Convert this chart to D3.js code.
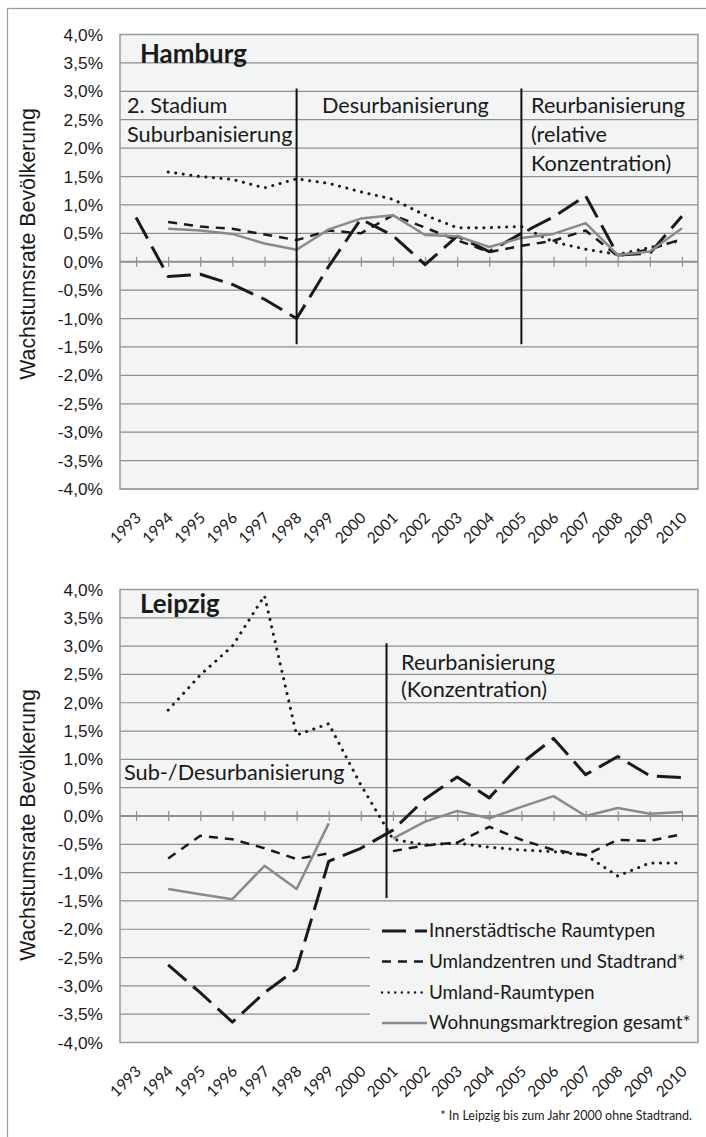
<!DOCTYPE html>
<html><head><meta charset="utf-8">
<script src="https://cdn.jsdelivr.net/npm/d3@7/dist/d3.min.js"></script>
<style>body{margin:0;background:#fff;} svg{display:block;}</style>
</head><body>
<svg id="c" width="706" height="1137"></svg>
<script>
// ---------- data ----------
const years = ["1993","1994","1995","1996","1997","1998","1999","2000","2001","2002","2003","2004","2005","2006","2007","2008","2009","2010"];
const yTicks = [-4,-3.5,-3,-2.5,-2,-1.5,-1,-0.5,0,0.5,1,1.5,2,2.5,3,3.5,4];
const seriesNames = ["Innerstädtische Raumtypen","Umlandzentren und Stadtrand*","Umland-Raumtypen","Wohnungsmarktregion gesamt*"];

// Hamburg (growth rate in %)
const hhInner  = [0.78,-0.26,-0.22,-0.40,-0.66,-1.00,-0.08,0.75,0.46,-0.05,0.45,0.18,0.50,0.79,1.16,0.12,0.15,0.80];
const hhUmz    = [null,0.70,0.62,0.58,0.48,0.38,0.55,0.50,0.82,0.60,0.38,0.17,0.28,0.37,0.55,0.10,0.22,0.40];
const hhUmland = [null,1.58,1.50,1.45,1.30,1.46,1.38,1.23,1.10,0.82,0.60,0.60,0.62,0.35,0.22,0.13,0.25,0.38];
const hhTotal  = [null,0.58,0.55,0.49,0.32,0.21,0.57,0.76,0.82,0.47,0.45,0.26,0.42,0.49,0.68,0.12,0.18,0.59];

// Leipzig (growth rate in %)
const leInner  = [null,-2.63,-3.12,-3.64,-3.12,-2.70,-0.80,-0.57,-0.25,0.30,0.69,0.32,0.93,1.37,0.73,1.05,0.71,0.68];
const leUmz    = [null,-0.75,-0.35,-0.41,-0.57,-0.76,-0.66,null,-0.62,-0.52,-0.47,-0.19,-0.42,-0.60,-0.69,-0.42,-0.44,-0.32];
const leUmland = [null,1.87,2.49,3.00,3.89,1.43,1.63,0.55,-0.41,-0.51,-0.48,-0.55,-0.60,-0.63,-0.69,-1.06,-0.83,-0.83];
const leTotal  = [null,-1.29,-1.38,-1.47,-0.88,-1.29,-0.13,null,-0.40,-0.10,0.09,-0.04,0.16,0.35,0.00,0.14,0.04,0.07];

// phase separators (year position, from / to value in %)
const hhPhases = [1998, 2005];
const lePhases = [2000.8];
const phaseRange = [3.05, -1.45];

// ---------- styles ----------
const calibri = "Lato, 'Open Sans', sans-serif";
const arial = "'Liberation Sans', Arial, sans-serif";
const styles = [
  {stroke:"#1a1a1a", width:3,   dash:"24 9", cap:"butt"},
  {stroke:"#1a1a1a", width:2.5, dash:"9 7",  cap:"butt"},
  {stroke:"#1a1a1a", width:3,   dash:"0.1 7.5", cap:"round"},
  {stroke:"#8a8a8a", width:2.5, dash:null,   cap:"butt"}
];

const loc = d3.formatLocale({decimal:",", thousands:".", grouping:[3], currency:["","€"], minus:"-"});
const fmt = loc.format(".1%");

const svg = d3.select("#c");
svg.append("rect").attr("x",7.5).attr("y",8.5).attr("width",705).attr("height",1135)
  .attr("fill","#fff").attr("stroke","#9a9a9a").attr("stroke-width",1.2);

// fit a group of texts (each with datum.w = wanted width) to one common font size
function fitGroup(sel, base){
  const ratios = [];
  sel.each(function(d){ ratios.push(d.w / this.getComputedTextLength()); });
  const r = d3.mean(ratios);
  sel.attr("font-size", base * r);
}

const allNotes = [], allTitles = [];
let legendSel = null;

function drawChart(cfg){
  const L = 120, R = 698, T = cfg.top, B = cfg.bottom;
  const x = d3.scalePoint().domain(years).range([L,R]).padding(0.5);
  const xl = d3.scaleLinear().domain([+years[0], +years[years.length-1]]).range([x(years[0]), x(years[years.length-1])]);
  const y = d3.scaleLinear().domain([-4,4]).range([B,T]);
  const g = svg.append("g");

  g.append("rect").attr("x",L).attr("y",T).attr("width",R-L).attr("height",B-T).attr("fill","#f3f4f4");

  g.append("g").selectAll("line").data(yTicks.filter(v=>v!==0)).join("line")
    .attr("x1",L).attr("x2",R).attr("y1",d=>y(d)).attr("y2",d=>y(d))
    .attr("stroke","#8e8e8e").attr("stroke-width",1.2);

  const ya = d3.axisLeft(y).tickValues(yTicks).tickFormat(d=>fmt(d/100)).tickSize(0).tickPadding(17);
  const yg = g.append("g").attr("transform",`translate(${L},0)`).call(ya);
  yg.select(".domain").remove();
  yg.selectAll("text").attr("font-family",arial).attr("font-size",17.3).attr("fill","#1a1a1a");

  if (cfg.legend){
    g.append("rect").attr("x",370).attr("y",905).attr("width",R-370).attr("height",B-905-1).attr("fill","#f3f4f4");
  }

  const xa = d3.axisBottom(x).tickSize(5).tickFormat("");
  const xg = g.append("g").attr("transform",`translate(0,${y(0)})`).call(xa);
  xg.select(".domain").attr("stroke","#8e8e8e").attr("stroke-width",1.8).attr("d",`M${L},0H${R}`);
  xg.selectAll(".tick line").attr("y1",-5).attr("y2",5).attr("stroke","#8e8e8e").attr("stroke-width",1.2);

  g.append("rect").attr("x",L).attr("y",T).attr("width",R-L).attr("height",B-T)
    .attr("fill","none").attr("stroke","#9a9a9a").attr("stroke-width",1.5);

  g.append("g").selectAll("text").data(years).join("text")
    .attr("transform",d=>`translate(${x(d)+6},${B+30}) rotate(-45)`)
    .attr("text-anchor","end").attr("font-family",calibri).attr("font-size",15.5).attr("fill","#1a1a1a")
    .text(d=>d);

  const line = d3.line().defined(d=>d[1]!==null).x(d=>x(d[0])).y(d=>y(d[1]));
  cfg.series.forEach((vals,i)=>{
    const st = styles[i];
    const p = g.append("path").datum(years.map((yr,j)=>[yr,vals[j]]))
      .attr("d",line).attr("fill","none").attr("stroke",st.stroke).attr("stroke-width",st.width)
      .attr("stroke-linecap",st.cap).attr("stroke-linejoin","round");
    if (st.dash) p.attr("stroke-dasharray",st.dash);
  });

  g.append("g").selectAll("line").data(cfg.phases).join("line")
    .attr("x1",d=>xl(d)).attr("x2",d=>xl(d)).attr("y1",y(phaseRange[0])).attr("y2",y(phaseRange[1]))
    .attr("stroke","#111").attr("stroke-width",2);

  allTitles.push(g.append("text").datum({w:cfg.titleW}).attr("x",140).attr("y",cfg.titleY)
    .attr("font-family",calibri).attr("font-weight","bold")
    .attr("font-size",20).attr("fill","#1a1a1a").text(cfg.title).node());

  g.append("g").selectAll("text").data(cfg.notes).join("text")
    .attr("x",d=>d.x).attr("y",d=>d.y).attr("font-family",calibri).attr("font-size",20).attr("fill","#1a1a1a")
    .text(d=>d.t).each(function(){ allNotes.push(this); });

  g.append("text").attr("transform",`translate(35,${cfg.titleCenter}) rotate(-90)`).attr("text-anchor","middle")
    .attr("font-family",arial).attr("font-size",21.3).attr("fill","#1a1a1a").text("Wachstumsrate Bevölkerung");

  if (cfg.legend){
    const rows = [931, 961.5, 992.5, 1023];
    const widths = [225, 260, 165, 260];
    const lg = g.append("g").selectAll("g").data(seriesNames).join("g")
      .attr("transform",(d,i)=>`translate(0,${rows[i]})`);
    lg.append("line").attr("x1",382).attr("x2",427).attr("y1",0).attr("y2",0)
      .attr("stroke",(d,i)=>styles[i].stroke).attr("stroke-width",(d,i)=>i===2?2.4:styles[i].width)
      .attr("stroke-linecap",(d,i)=>styles[i].cap)
      .attr("stroke-dasharray",(d,i)=>i===2?"0.1 6.5":styles[i].dash);
    legendSel = lg.append("text").datum((d,i)=>({t:d,w:widths[i]})).attr("x",429).attr("y",6)
      .attr("font-family",calibri).attr("font-size",20).attr("fill","#1a1a1a").text(d=>d.t);
  }
}

drawChart({top:34.5, bottom:489, title:"Hamburg", titleW:108, titleY:63, titleCenter:244,
  series:[hhInner,hhUmz,hhUmland,hhTotal], phases:hhPhases, legend:false,
  notes:[{t:"2. Stadium",x:127,y:113,w:100},{t:"Suburbanisierung",x:127,y:142,w:166},{t:"Desurbanisierung",x:322,y:113,w:166},
         {t:"Reurbanisierung",x:531,y:113,w:156},{t:"(relative",x:531,y:142,w:null},{t:"Konzentration)",x:531,y:171,w:140}]});

drawChart({top:589.5, bottom:1042.5, title:"Leipzig", titleW:79, titleY:613, titleCenter:825,
  series:[leInner,leUmz,leUmland,leTotal], phases:lePhases, legend:true,
  notes:[{t:"Sub-/Desurbanisierung",x:124,y:780,w:218},{t:"Reurbanisierung",x:401,y:670,w:156},{t:"(Konzentration)",x:401,y:697,w:146}]});

fitGroup(d3.selectAll(allTitles), 20);
fitGroup(d3.selectAll(allNotes).filter(d=>d.w), 20);
d3.selectAll(allNotes).attr("font-size", d3.select(allNotes[0]).attr("font-size"));
fitGroup(legendSel, 20);

const foot = svg.append("text").datum({w:252}).attr("x",692).attr("y",1120).attr("text-anchor","end").attr("font-family",calibri)
  .attr("font-size",14).attr("fill","#1a1a1a").text("* In Leipzig bis zum Jahr 2000 ohne Stadtrand.");
fitGroup(foot, 14);
</script>
</body></html>
